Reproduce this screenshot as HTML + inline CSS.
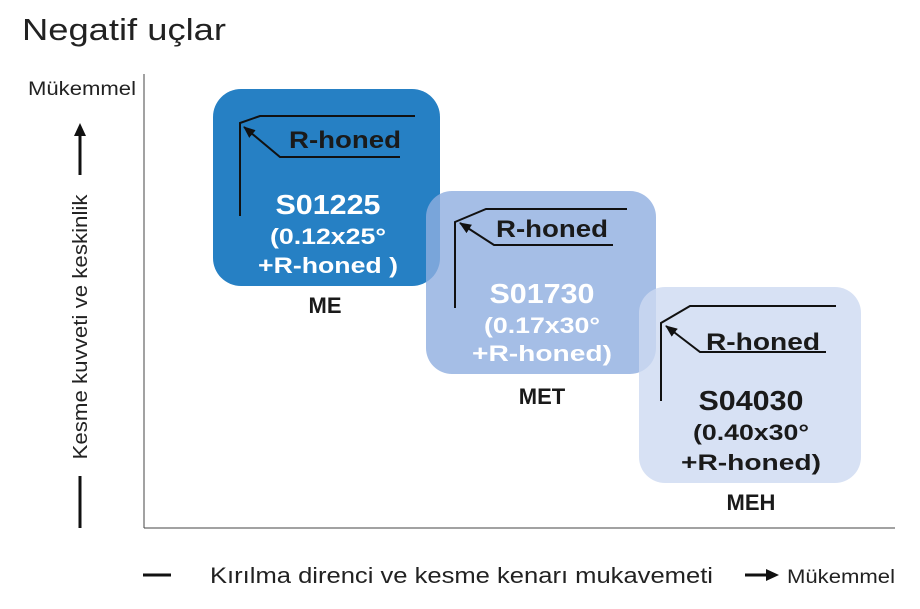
<!DOCTYPE html>
<html><head><meta charset="utf-8"><style>html,body{margin:0;padding:0;background:#fff}svg{display:block}</style></head><body>
<svg width="920" height="609" viewBox="0 0 920 609" xmlns="http://www.w3.org/2000/svg" font-family="Liberation Sans, DejaVu Sans, sans-serif">
<defs><marker id="ah" markerWidth="12" markerHeight="10" refX="11" refY="5" orient="auto" markerUnits="userSpaceOnUse"><path d="M0,0 L12,5 L0,10 z" fill="#111"/></marker></defs>
<text x="22" y="40" font-size="31" fill="#222" textLength="204" lengthAdjust="spacingAndGlyphs">Negatif uçlar</text>
<text x="28" y="95" font-size="19" fill="#222" textLength="108" lengthAdjust="spacingAndGlyphs">Mükemmel</text>
<line x1="80" y1="175" x2="80" y2="134" stroke="#111" stroke-width="3"/>
<path d="M74,136 L80,123 L86,136 z" fill="#111"/>
<text transform="translate(87,327) rotate(-90)" text-anchor="middle" font-size="20" fill="#222" textLength="265" lengthAdjust="spacingAndGlyphs">Kesme kuvveti ve keskinlik</text>
<line x1="80" y1="476" x2="80" y2="528" stroke="#111" stroke-width="3"/>
<line x1="144" y1="74" x2="144" y2="528" stroke="#444" stroke-width="1"/>
<line x1="144" y1="528" x2="895" y2="528" stroke="#444" stroke-width="1"/>
<line x1="143" y1="575" x2="171" y2="575" stroke="#111" stroke-width="3"/>
<text x="210" y="583" font-size="22" fill="#222" textLength="503" lengthAdjust="spacingAndGlyphs">Kırılma direnci ve kesme kenarı mukavemeti</text>
<line x1="745" y1="575" x2="768" y2="575" stroke="#111" stroke-width="3"/>
<path d="M766,569 L779,575 L766,581 z" fill="#111"/>
<text x="787" y="583" font-size="19" fill="#222" textLength="108" lengthAdjust="spacingAndGlyphs">Mükemmel</text>

<rect x="213" y="89" width="227" height="197" rx="28" fill="#2680c4"/>
<rect x="426" y="191" width="230" height="183" rx="26" fill="#8eaee0" fill-opacity="0.8"/>
<rect x="639" y="287" width="222" height="196" rx="26" fill="#cdd9f1" fill-opacity="0.8"/>

<g stroke="#111" stroke-width="2" fill="none">
<path d="M240,216 L240,123 L260,116 L415,116"/>
<path d="M400,157 L280,157 L244,127" marker-end="url(#ah)"/>
<path d="M455,308 L455,222 L486,209 L627,209"/>
<path d="M613,245 L494,245 L460,223" marker-end="url(#ah)"/>
<path d="M661,401 L661,323 L690,306 L836,306"/>
<path d="M826,352 L700,352 L666,326" marker-end="url(#ah)"/>
</g>
<g font-weight="bold" fill="#1a1a1a" font-size="24">
<text x="289" y="148" textLength="112" lengthAdjust="spacingAndGlyphs">R-honed</text>
<text x="496" y="237" textLength="112" lengthAdjust="spacingAndGlyphs">R-honed</text>
<text x="706" y="350" textLength="114" lengthAdjust="spacingAndGlyphs">R-honed</text>
</g>
<g font-weight="bold" text-anchor="middle">
<text x="328" y="214" font-size="28" fill="#fff" textLength="105" lengthAdjust="spacingAndGlyphs">S01225</text>
<text x="328" y="244" font-size="22" fill="#fff" textLength="116" lengthAdjust="spacingAndGlyphs">(0.12x25°</text>
<text x="328" y="273" font-size="22" fill="#fff" textLength="140" lengthAdjust="spacingAndGlyphs">+R-honed )</text>
<text x="542" y="303" font-size="28" fill="#fff" textLength="105" lengthAdjust="spacingAndGlyphs">S01730</text>
<text x="542" y="333" font-size="22" fill="#fff" textLength="116" lengthAdjust="spacingAndGlyphs">(0.17x30°</text>
<text x="542" y="361" font-size="22" fill="#fff" textLength="140" lengthAdjust="spacingAndGlyphs">+R-honed)</text>
<text x="751" y="410" font-size="28" fill="#1a1a1a" textLength="105" lengthAdjust="spacingAndGlyphs">S04030</text>
<text x="751" y="440" font-size="22" fill="#1a1a1a" textLength="116" lengthAdjust="spacingAndGlyphs">(0.40x30°</text>
<text x="751" y="470" font-size="22" fill="#1a1a1a" textLength="140" lengthAdjust="spacingAndGlyphs">+R-honed)</text>
<text x="325" y="313" font-size="22" fill="#1a1a1a">ME</text>
<text x="542" y="404" font-size="22" fill="#1a1a1a">MET</text>
<text x="751" y="510" font-size="22" fill="#1a1a1a">MEH</text>
</g>
</svg>
</body></html>
